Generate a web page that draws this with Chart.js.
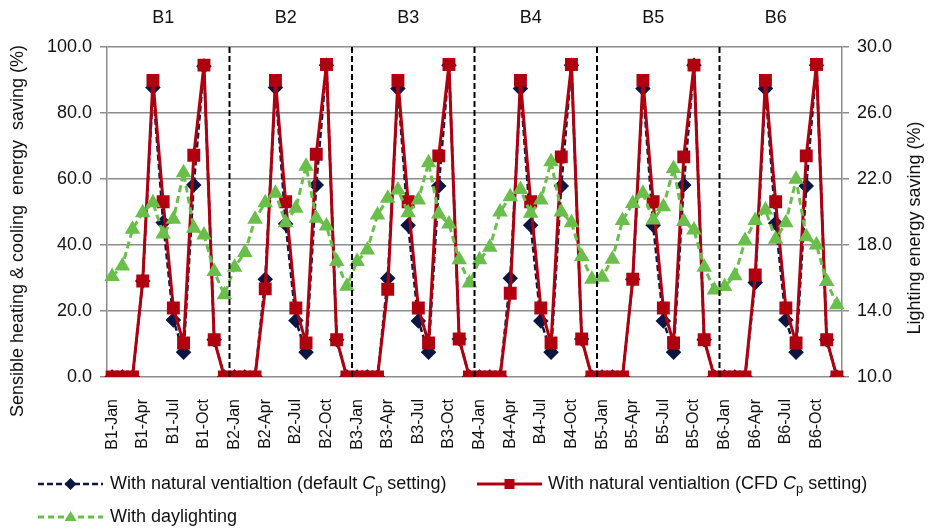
<!DOCTYPE html>
<html>
<head>
<meta charset="utf-8">
<script src="https://cdn.jsdelivr.net/npm/chart.js@4"></script>
<style>
  html, body { margin: 0; padding: 0; background: #fff; }
  #wrap { width: 932px; height: 528px; position: relative; }
</style>
</head>
<body>
<div id="wrap"><canvas id="chart"></canvas></div>
<script>
var buildings = ["B1", "B2", "B3", "B4", "B5", "B6"];
var months = ["Jan", "Feb", "Mar", "Apr", "May", "Jun", "Jul", "Aug", "Sep", "Oct", "Nov", "Dec"];

// sensible heating & cooling saving (%), left axis
var defaultCp = [
  0, 0, 0, 29.1, 87.7, 46.8, 17.3, 7.5, 58.2, 94.2, 11.3, 0,
  0, 0, 0, 29.6, 87.7, 46.4, 17.1, 7.5, 58.2, 94.5, 11.3, 0,
  0, 0, 0, 29.9, 87.4, 46.0, 17.0, 7.5, 57.9, 94.5, 11.5, 0,
  0, 0, 0, 29.9, 87.4, 46.0, 17.0, 7.5, 57.9, 94.5, 11.5, 0,
  0, 0, 0, 29.6, 87.4, 46.0, 17.0, 7.5, 58.2, 94.5, 11.3, 0,
  0, 0, 0, 28.6, 87.4, 46.6, 17.3, 7.5, 57.9, 94.5, 11.3, 0
];
var cfdCp = [
  0, 0, 0, 29.1, 89.9, 53.1, 20.9, 10.3, 67.2, 94.5, 11.3, 0,
  0, 0, 0, 26.7, 89.9, 53.1, 20.9, 10.3, 67.5, 94.7, 11.3, 0,
  0, 0, 0, 26.6, 89.9, 53.1, 20.9, 10.3, 67.0, 94.7, 11.5, 0,
  0, 0, 0, 25.4, 89.9, 53.1, 20.9, 10.3, 66.7, 94.7, 11.5, 0,
  0, 0, 0, 29.6, 89.9, 53.1, 20.9, 10.3, 66.7, 94.5, 11.3, 0,
  0, 0, 0, 30.9, 89.9, 53.1, 20.9, 10.3, 67.0, 94.7, 11.3, 0
];
// lighting saving (%), right axis
var daylight = [
  16.09, 16.73, 18.95, 19.96, 20.56, 18.67, 19.56, 22.38, 19.01, 18.61, 16.39, 14.98,
  16.65, 17.54, 19.56, 20.56, 21.13, 19.35, 20.22, 22.78, 19.62, 19.15, 17.0, 15.5,
  17.0, 17.7, 19.82, 20.83, 21.33, 19.96, 20.73, 22.98, 19.88, 19.27, 17.1, 15.69,
  17.1, 17.86, 20.0, 20.93, 21.37, 19.92, 20.73, 23.04, 20.0, 19.35, 17.3, 15.93,
  16.05, 17.14, 19.48, 20.52, 21.13, 19.52, 20.32, 22.64, 19.42, 18.91, 16.65, 15.28,
  15.48, 16.13, 18.27, 19.48, 20.12, 18.35, 19.35, 21.98, 18.5, 18.0, 15.79, 14.38
];

var leftTitle = "Sensible heating & cooling  energy  saving (%)";
var rightTitle = "Lighting energy saving (%)";

var labels = [];
buildings.forEach(function(b) {
  months.forEach(function(m) { labels.push(b + "-" + m); });
});

var NAVY = "#0b1642";
var RED = "#b0000f";
var GREEN = "#6abf4b";
var GRID = "#8c8c8c";
var TEXT = "#111";
var FONT = "'Liberation Sans', Arial, sans-serif";

// dashed lines between buildings, building names, axis titles
var groupPlugin = {
  id: "groups",
  afterDatasetsDraw: function(chart) {
    var ctx = chart.ctx;
    var x = chart.scales.x;
    var area = chart.chartArea;
    ctx.save();
    ctx.strokeStyle = "#000";
    ctx.lineWidth = 2;
    ctx.setLineDash([6, 3]);
    for (var k = 1; k < buildings.length; k++) {
      var px = (x.getPixelForValue(k * 12 - 1) + x.getPixelForValue(k * 12)) / 2;
      ctx.beginPath();
      ctx.moveTo(px, area.top);
      ctx.lineTo(px, area.bottom);
      ctx.stroke();
    }
    ctx.restore();
  },
  afterDraw: function(chart) {
    var ctx = chart.ctx;
    var x = chart.scales.x;
    ctx.save();
    ctx.fillStyle = TEXT;
    ctx.font = "18px " + FONT;
    ctx.textAlign = "center";
    ctx.textBaseline = "middle";
    buildings.forEach(function(b, i) {
      var cx = (x.getPixelForValue(i * 12) + x.getPixelForValue(i * 12 + 11)) / 2;
      ctx.fillText(b, cx - 5, 18);
    });
    // both titles read bottom to top
    ctx.save();
    ctx.translate(18, 231);
    ctx.rotate(-Math.PI / 2);
    ctx.fillText(leftTitle, 0, 0);
    ctx.restore();
    ctx.save();
    ctx.translate(915, 228);
    ctx.rotate(-Math.PI / 2);
    ctx.fillText(rightTitle, 0, 0);
    ctx.restore();
    ctx.restore();
  }
};

// legend with italic C and subscript p
function drawParts(ctx, parts, x, y) {
  parts.forEach(function(p) {
    var size = p.sub ? 13 : 18;
    ctx.font = (p.italic ? "italic " : "") + size + "px " + FONT;
    ctx.fillText(p.t, x, y + (p.sub ? 5 : 0));
    x += ctx.measureText(p.t).width;
  });
}

function drawSample(ctx, x0, x1, y, color, dash, width, style) {
  ctx.save();
  ctx.strokeStyle = color;
  ctx.fillStyle = color;
  ctx.lineWidth = width;
  ctx.setLineDash(dash);
  ctx.beginPath();
  ctx.moveTo(x0, y);
  ctx.lineTo(x1, y);
  ctx.stroke();
  ctx.setLineDash([]);
  var cx = (x0 + x1) / 2;
  ctx.beginPath();
  if (style === "diamond") {
    ctx.moveTo(cx, y - 6); ctx.lineTo(cx + 6, y); ctx.lineTo(cx, y + 6); ctx.lineTo(cx - 6, y);
  } else if (style === "square") {
    ctx.rect(cx - 5, y - 5, 10, 10);
  } else {
    ctx.moveTo(cx, y - 6); ctx.lineTo(cx + 6, y + 4); ctx.lineTo(cx - 6, y + 4);
  }
  ctx.closePath();
  ctx.fill();
  ctx.restore();
}

var legendPlugin = {
  id: "customLegend",
  afterDraw: function(chart) {
    var ctx = chart.ctx;
    ctx.save();
    ctx.fillStyle = TEXT;
    ctx.textBaseline = "middle";
    ctx.textAlign = "left";
    drawSample(ctx, 38, 103, 484, NAVY, [6, 3], 2.5, "diamond");
    drawParts(ctx, [
      { t: "With natural ventialtion (default " },
      { t: "C", italic: true },
      { t: "p", sub: true },
      { t: " setting)" }
    ], 110, 484);
    drawSample(ctx, 477, 542, 484, RED, [], 3, "square");
    drawParts(ctx, [
      { t: "With natural ventialtion (CFD " },
      { t: "C", italic: true },
      { t: "p", sub: true },
      { t: " setting)" }
    ], 548, 484);
    drawSample(ctx, 38, 103, 517, GREEN, [6, 4], 3, "triangle");
    drawParts(ctx, [{ t: "With daylighting" }], 110, 517);
    ctx.restore();
  }
};

new Chart(document.getElementById("chart"), {
  type: "line",
  data: {
    labels: labels,
    datasets: [{
      label: "With natural ventialtion (default Cp setting)",
      data: defaultCp,
      yAxisID: "y",
      borderColor: NAVY,
      backgroundColor: NAVY,
      borderWidth: 2.5,
      borderDash: [6, 3],
      pointStyle: "rectRot",
      pointRadius: 6,
      order: 2
    }, {
      label: "With natural ventialtion (CFD Cp setting)",
      data: cfdCp,
      yAxisID: "y",
      borderColor: RED,
      backgroundColor: RED,
      borderWidth: 3,
      pointStyle: "rect",
      pointRadius: 7,
      order: 1
    }, {
      label: "With daylighting",
      data: daylight,
      yAxisID: "y1",
      borderColor: GREEN,
      backgroundColor: GREEN,
      borderWidth: 3,
      borderDash: [7, 4],
      pointStyle: "triangle",
      pointRadius: 6,
      order: 0
    }]
  },
  options: {
    responsive: true,
    maintainAspectRatio: false,
    animation: false,
    layout: { padding: { top: 47, bottom: 71, left: 0, right: 0 } },
    plugins: {
      legend: { display: false },
      tooltip: { enabled: false }
    },
    scales: {
      x: {
        offset: true,
        afterFit: function(scale) { scale.height = 80; },
        grid: { display: false, offset: true },
        border: { display: false },
        ticks: {
          autoSkip: false,
          maxRotation: 90,
          minRotation: 90,
          padding: 14,
          color: TEXT,
          font: { family: FONT, size: 16 },
          callback: function(value, index) {
            return index % 3 === 0 ? labels[index] : "";
          }
        }
      },
      y: {
        position: "left",
        min: 0,
        max: 100,
        afterFit: function(scale) { scale.width = 107; },
        grid: { color: GRID, lineWidth: 1.5, tickLength: 7 },
        border: { color: GRID, width: 1.5 },
        ticks: {
          stepSize: 20,
          padding: 8,
          color: TEXT,
          font: { family: FONT, size: 18 },
          callback: function(v) { return v.toFixed(1); }
        }
      },
      y1: {
        position: "right",
        min: 10,
        max: 30,
        afterFit: function(scale) { scale.width = 90; },
        grid: { drawOnChartArea: false, color: GRID, lineWidth: 1.5, tickLength: 7 },
        border: { color: GRID, width: 1.5 },
        ticks: {
          stepSize: 4,
          padding: 8,
          color: TEXT,
          font: { family: FONT, size: 18 },
          callback: function(v) { return v.toFixed(1); }
        }
      }
    }
  },
  plugins: [groupPlugin, legendPlugin]
});
</script>
</body>
</html>
